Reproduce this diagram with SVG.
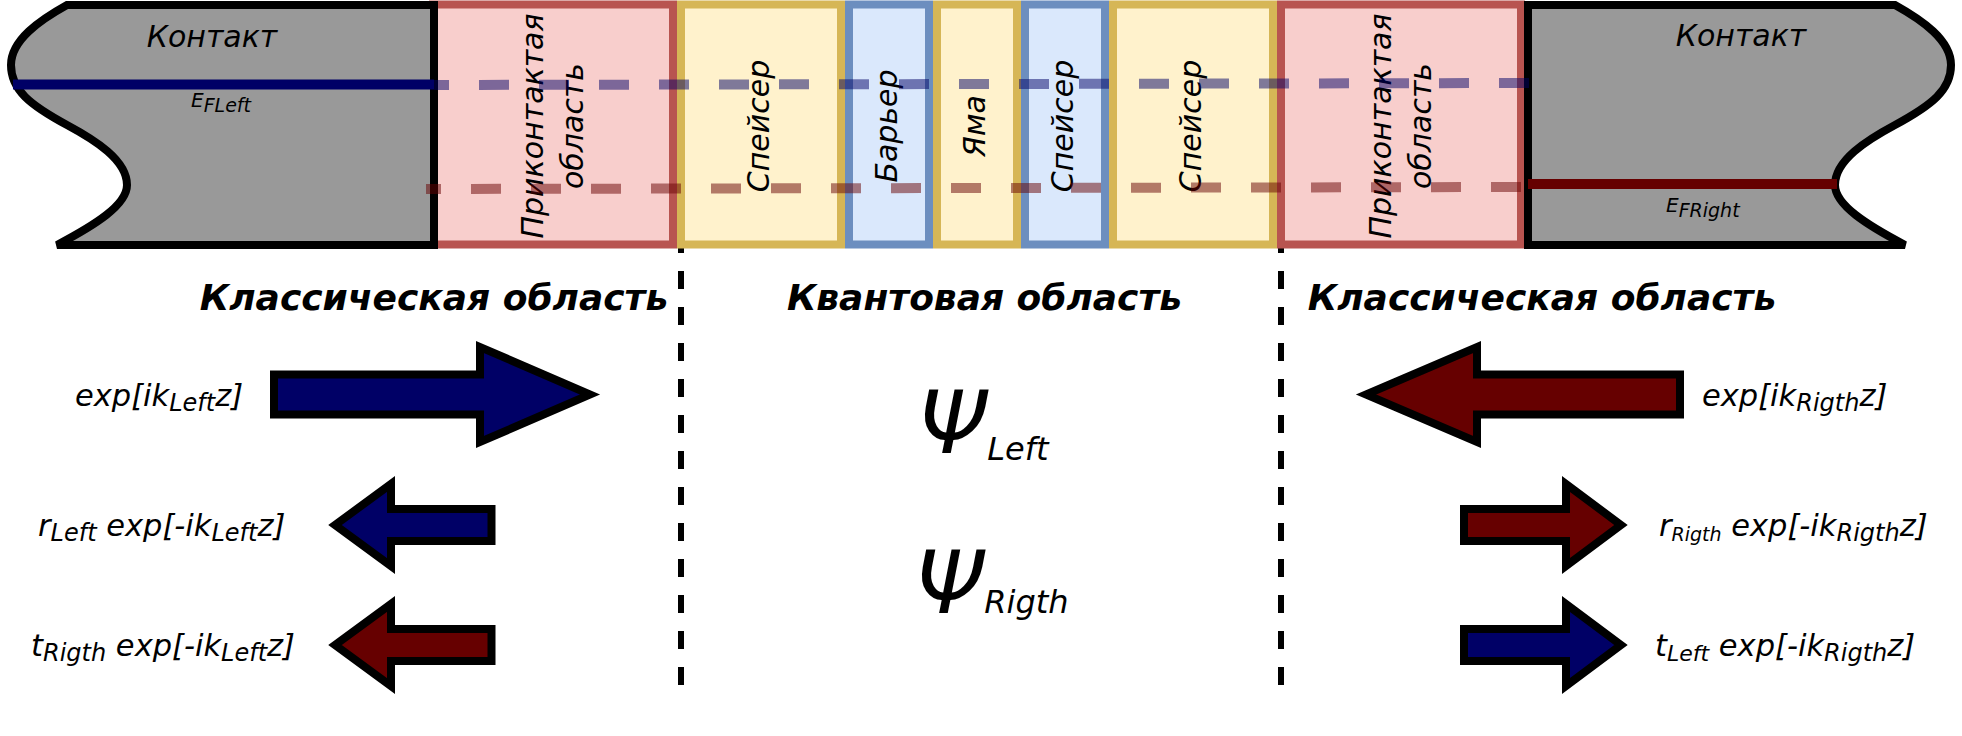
<svg xmlns="http://www.w3.org/2000/svg" width="1962" height="736" viewBox="0 0 1962 736">
<style>
  text{font-family:"DejaVu Sans","Liberation Sans",sans-serif;font-style:italic;fill:#000}
  .t30{font-size:30px}
  .lbl{font-size:30.5px}
  .title{font-size:36px;font-weight:bold}
  .contact{fill:#999999;stroke:#000;stroke-width:8}
  .pink{fill:#f8cecc;stroke:#b85450;stroke-width:8}
  .yel{fill:#fff2cc;stroke:#d6b656;stroke-width:8}
  .blu{fill:#dae8fc;stroke:#6c8ebf;stroke-width:8}
  .arrow{stroke:#000;stroke-width:8;stroke-linejoin:miter}
  .navy{fill:#000066}
  .maroon{fill:#660000}
  .divider{stroke:#000;stroke-width:6;stroke-dasharray:18 18;fill:none}
  .ef{stroke-width:10;fill:none}
  .dash{stroke-dasharray:30 30;stroke-opacity:0.5}
</style>
<defs>
  <path id="contactShape" d="M67,5 L434,5 L434,245 L57,245 C95,225 127,205 127,185 C127,160 95,140 67,125 C30,105 11,90 11,65 C11,40 40,20 67,5 Z"/>
</defs>
<rect width="1962" height="736" fill="#fff"/>

<g id="dividers">
  <path class="divider" d="M681,235 L681,685"/>
  <path class="divider" d="M1281,235 L1281,685"/>
</g>

<g id="prikontakt-left"><rect class="pink" x="433" y="4.5" width="240" height="240"/>
  <text class="t30" transform="translate(553,126) rotate(-90)" text-anchor="middle"><tspan x="0" y="-10">Приконтактая</tspan><tspan x="0" y="30">область</tspan></text></g>
<g id="spacer-1"><rect class="yel" x="681" y="4.5" width="160" height="240"/>
  <text class="t30" transform="translate(761,126) rotate(-90)" text-anchor="middle" y="8">Спейсер</text></g>
<g id="barrier"><rect class="blu" x="849" y="4.5" width="80" height="240"/>
  <text class="t30" transform="translate(889,126) rotate(-90)" text-anchor="middle" y="8">Барьер</text></g>
<g id="well"><rect class="yel" x="937" y="4.5" width="80" height="240"/>
  <text class="t30" transform="translate(977,126) rotate(-90)" text-anchor="middle" y="8">Яма</text></g>
<g id="spacer-2"><rect class="blu" x="1025" y="4.5" width="80" height="240"/>
  <text class="t30" transform="translate(1065,126) rotate(-90)" text-anchor="middle" y="8">Спейсер</text></g>
<g id="spacer-3"><rect class="yel" x="1113" y="4.5" width="160" height="240"/>
  <text class="t30" transform="translate(1193,126) rotate(-90)" text-anchor="middle" y="8">Спейсер</text></g>
<g id="prikontakt-right"><rect class="pink" x="1281" y="4.5" width="240" height="240"/>
  <text class="t30" transform="translate(1401,126) rotate(-90)" text-anchor="middle"><tspan x="0" y="-10">Приконтактая</tspan><tspan x="0" y="30">область</tspan></text></g>

<g id="contact-left"><use href="#contactShape" class="contact"/>
  <text class="t30" x="212" y="47" text-anchor="middle">Контакт</text></g>
<g id="contact-right"><use href="#contactShape" class="contact" transform="matrix(-1,0,0,1,1962,0)"/>
  <text class="t30" x="1741" y="46" text-anchor="middle">Контакт</text></g>

<g id="connectors">
  <path class="ef" stroke="#000066" d="M13,84.5 L434,84.5"/>
  <path class="ef dash" stroke="#000066" d="M1529,83 L434,85"/>
  <path class="ef" stroke="#660000" d="M1528,184 L1837,184"/>
  <path class="ef dash" stroke="#660000" d="M1521,187 L426,189"/>
</g>

<g id="fermi-labels">
  <text x="191" y="107" font-size="20">E<tspan font-size="19" dy="5">FLeft</tspan></text>
  <text x="1666" y="212" font-size="20">E<tspan font-size="19" dy="5">FRight</tspan></text>
</g>

<g id="titles">
  <text class="title" x="434" y="310" text-anchor="middle">Классическая область</text>
  <text class="title" x="984.5" y="310" text-anchor="middle">Квантовая область</text>
  <text class="title" x="1542" y="310" text-anchor="middle">Классическая область</text>
</g>

<g id="arrow-incident-left"><path class="arrow navy" d="M274,374.5 L480,374.5 L480,347 L590,394.5 L480,442 L480,414.5 L274,414.5 Z"/>
  <text class="lbl" x="75" y="406">exp[ik<tspan font-size="24" dy="5">Left</tspan><tspan dy="-5">z]</tspan></text></g>
<g id="arrow-reflected-left"><path class="arrow navy" d="M491.5,509 L391,509 L391,484 L335,525 L391,566 L391,541 L491.5,541 Z"/>
  <text class="lbl" x="38" y="536">r<tspan font-size="24" dy="5">Left</tspan><tspan dy="-5"> exp[-ik</tspan><tspan font-size="24" dy="5">Left</tspan><tspan dy="-5">z]</tspan></text></g>
<g id="arrow-transmitted-left"><path class="arrow maroon" d="M491.5,629 L391,629 L391,604 L335,645 L391,686 L391,661 L491.5,661 Z"/>
  <text class="lbl" x="31" y="656">t<tspan font-size="24" dy="5">Rigth</tspan><tspan dy="-5"> exp[-ik</tspan><tspan font-size="24" dy="5">Left</tspan><tspan dy="-5">z]</tspan></text></g>

<g id="arrow-incident-right"><path class="arrow maroon" d="M1680,374.5 L1477,374.5 L1477,347 L1366,394.5 L1477,442 L1477,414.5 L1680,414.5 Z"/>
  <text class="lbl" x="1702" y="406">exp[ik<tspan font-size="24" dy="5">Rigth</tspan><tspan dy="-5">z]</tspan></text></g>
<g id="arrow-reflected-right"><path class="arrow maroon" d="M1464,509 L1566,509 L1566,484 L1621,525 L1566,566 L1566,541 L1464,541 Z"/>
  <text class="lbl" x="1659" y="536">r<tspan font-size="19" dy="5">Rigth</tspan><tspan dy="-5"> exp[-ik</tspan><tspan font-size="24" dy="5">Rigth</tspan><tspan dy="-5">z]</tspan></text></g>
<g id="arrow-transmitted-right"><path class="arrow navy" d="M1464,629 L1566,629 L1566,604 L1621,645 L1566,686 L1566,661 L1464,661 Z"/>
  <text class="lbl" x="1655" y="656">t<tspan font-size="22" dy="5">Left</tspan><tspan dy="-5"> exp[-ik</tspan><tspan font-size="24" dy="5">Rigth</tspan><tspan dy="-5">z]</tspan></text></g>

<g id="psi-left"><text x="918" y="453"><tspan font-size="88">Ψ</tspan><tspan font-size="32" dy="7">Left</tspan></text></g>
<g id="psi-right"><text x="915" y="613"><tspan font-size="88">Ψ</tspan><tspan font-size="32">Rigth</tspan></text></g>
</svg>
